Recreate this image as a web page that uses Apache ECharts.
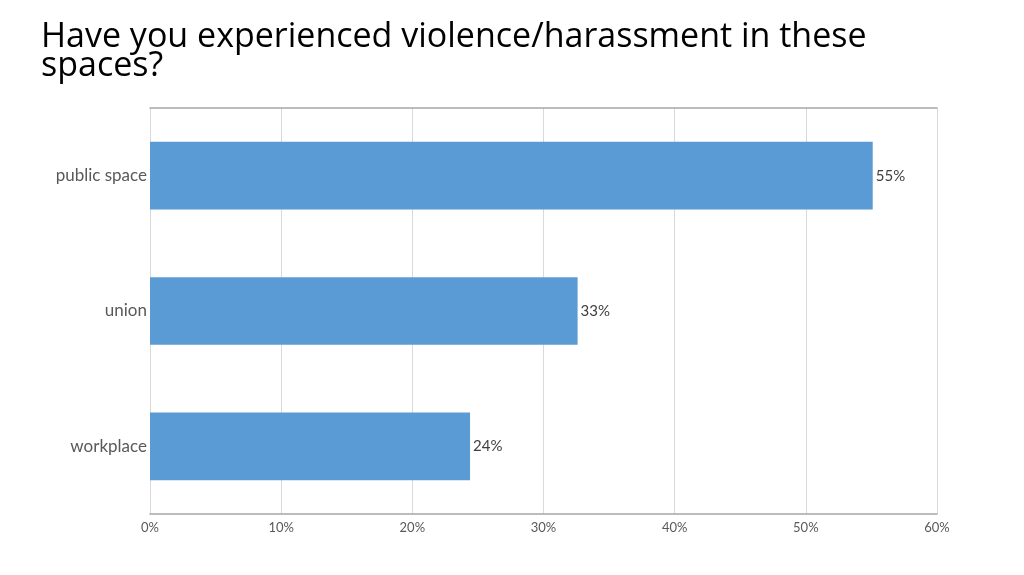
<!DOCTYPE html>
<html>
<head>
  <meta charset="UTF-8">
  <title>violence/harassment</title>
  <style>
    html, body { margin: 0; padding: 0; background: #fff; }
    #chart { width: 1024px; height: 575px; }
  </style>
  <script src="https://cdn.jsdelivr.net/npm/echarts@6/dist/echarts.min.js"></script>
</head>
<body>
  <div id="chart"></div>
  <script>
    var titleText = 'Have you experienced violence/harassment in these\nspaces?';
    var categories = ['workplace', 'union', 'public space'];
    var values = [24.4, 32.6, 55.1];
    var tickMax = 60;
    var tickStep = 10;

    var chart = echarts.init(document.getElementById('chart'));
    chart.setOption({
      animation: false,
      title: {
        text: titleText,
        left: 36,
        top: 18,
        textStyle: { fontFamily: 'Open Sans', fontSize: 34, fontWeight: 'normal', color: '#000', lineHeight: 29 }
      },
      grid: { left: 150, right: 87, top: 108, bottom: 61, containLabel: false },
      xAxis: [{
        type: 'value', min: 0, max: tickMax, interval: tickStep,
        axisLine: { show: true, lineStyle: { color: '#a6a6a6', width: 1.5 } },
        axisTick: { show: false },
        splitLine: { lineStyle: { color: '#d9d9d9' } },
        axisLabel: { formatter: '{value}%', color: '#595959', fontFamily: 'Lato', fontSize: 13, margin: 7 }
      }, {
        type: 'value', position: 'top', min: 0, max: tickMax, interval: tickStep,
        axisLine: { show: true, lineStyle: { color: '#a6a6a6', width: 1.5 } },
        axisTick: { show: false }, axisLabel: { show: false }, splitLine: { show: false }
      }],
      yAxis: {
        type: 'category', data: categories,
        axisLine: { show: false }, axisTick: { show: false },
        axisLabel: { color: '#595959', fontFamily: 'Lato', fontSize: 17, margin: 3 }
      },
      series: [{
        type: 'bar', data: values, barCategoryGap: '50%',
        itemStyle: { color: '#5b9bd5' },
        label: {
          show: true, position: 'right', distance: 3,
          color: '#404040', fontFamily: 'Lato', fontSize: 15,
          formatter: function (p) { return Math.round(p.value) + '%'; }
        }
      }]
    });
  </script>
</body>
</html>
